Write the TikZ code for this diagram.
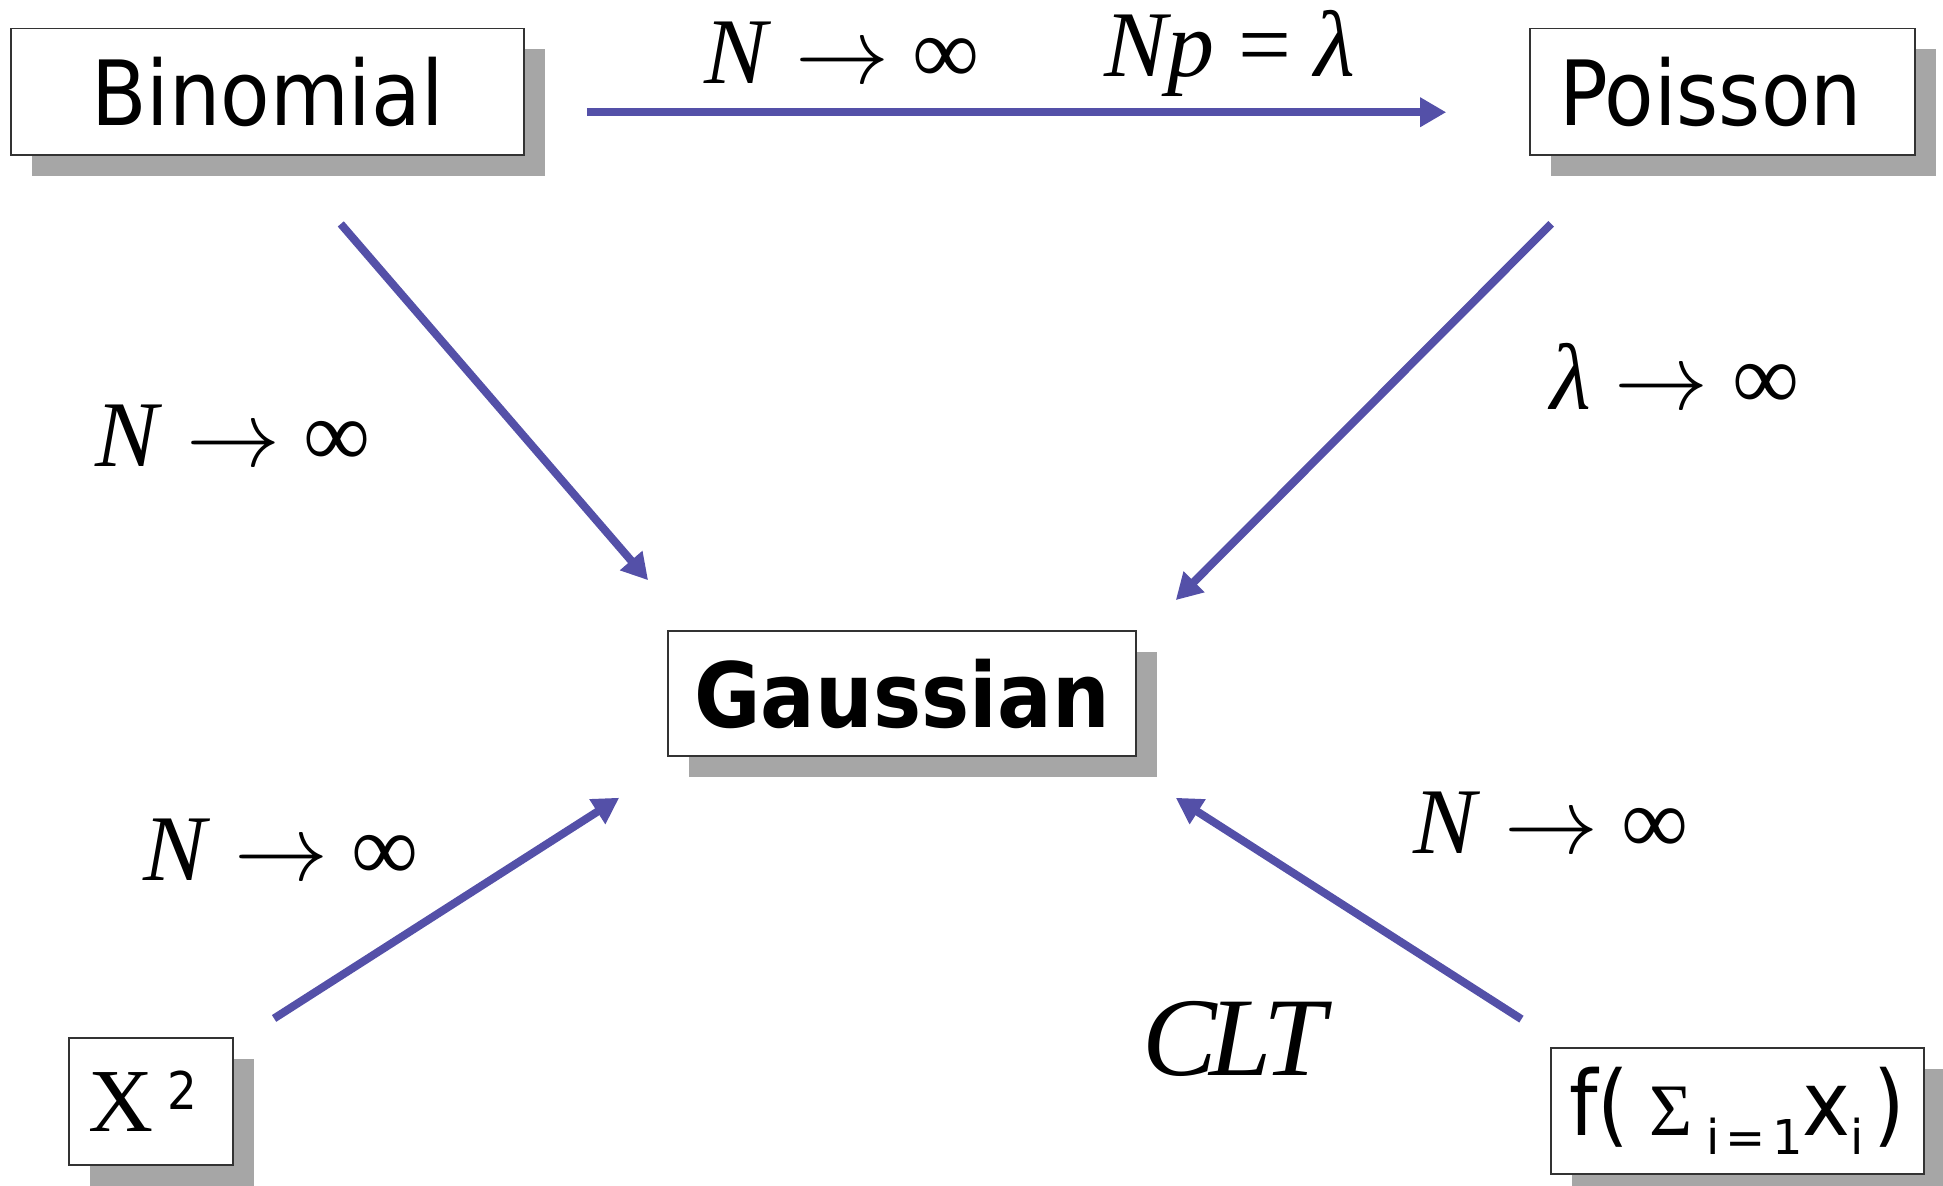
\documentclass[tikz,border=0pt]{standalone}
\usepackage{graphicx}
\usepackage{fontspec}
\setmainfont{DejaVu Sans Condensed}
\newfontfamily\tms{Liberation Serif}
\newfontfamily\dvs{DejaVu Sans}
\usetikzlibrary{arrows.meta,shadows}
\definecolor{arrowblue}{RGB}{84,80,168}
\newcommand{\lowtxt}[1]{\raisebox{-9.5pt}{\dvs\fontsize{24}{26}\selectfont #1}}
\newcommand{\tends}{\scalebox{4.7}{\fontsize{10}{12}\selectfont$\rightarrow$}}

\begin{document}
\begin{tikzpicture}[x=0.5pt,y=-0.5pt,
  distbox/.style={draw=black!80, line width=0.8pt, fill=white, inner sep=0pt,
    drop shadow={shadow xshift=10.5pt, shadow yshift=-10.5pt, fill=black!35, opacity=1},
    font=\fontsize{45}{50}\selectfont},
  flow/.style={draw=arrowblue, line width=4pt, -{Triangle[length=13pt,width=14pt]}},
  limit/.style={font=\tms\fontsize{47}{52}\selectfont, anchor=base, inner sep=0pt, text height=33pt}]
\useasboundingbox (0,0) rectangle (1943,1186);
% distributions
\node[distbox, minimum width=256.5pt, minimum height=63.25pt] (bin) at (267.5,91.75) {Binomial};
\node[distbox, minimum width=192.5pt, minimum height=63.25pt] (poi) at (1722.5,91.75) {Poisson\kern12pt};
\node[distbox, minimum width=234pt, minimum height=62.5pt, font=\bfseries\fontsize{45}{50}\selectfont] (gau) at (902,693.5) {Gaussian};
\node[distbox, minimum width=82pt, minimum height=63.5pt] (chi) at (151,1101.5) {{\tms\fontsize{45}{48}\selectfont X}\hspace{7pt}\raisebox{11pt}{\fontsize{26}{28}\selectfont 2}\kern8pt};
\node[distbox, minimum width=186.5pt, minimum height=63pt] (sum) at (1737.5,1111) {f(\hspace{10pt}{\tms\fontsize{37}{40}\selectfont Σ}\hspace{7pt}\lowtxt{i\kern3pt=\kern3pt1}x\lowtxt{i}\kern5pt)};
% limits
\node[limit] (lim-top) at (842,84) {\textit{N} \tends{} ∞};
\node[limit] (lim-np) at (1230,77) {\textit{Np} = \textit{λ}};
\node[limit] (lim-bin) at (233,467) {\textit{N} \tends{} ∞};
\node[limit] (lim-poi) at (1675,410) {\textit{λ} \tends{} ∞};
\node[limit] (lim-chi) at (281,880) {\textit{N} \tends{} ∞};
\node[limit] (lim-sum) at (1551,853) {\textit{N} \tends{} ∞};
\node[limit, font=\tms\itshape\fontsize{56}{60}\selectfont, text height=39pt] (clt) at (1234,1075) {C\kern-4pt L\kern-4pt T};
% arrows
\draw[flow, shorten <=31pt, shorten >=41.5pt] ([yshift=-10.25pt]bin.east) -- ([yshift=-10.25pt]poi.west);
\draw[flow, shorten <=45pt, shorten >=33pt] ([xshift=7.25pt]bin.south) -- ([xshift=12pt]gau.north west);
\draw[flow, shorten <=48pt, shorten >=27.6pt] ([xshift=-51.75pt]poi.south) -- ([yshift=-4.5pt]gau.north east);
\draw[flow, shorten <=23.9pt, shorten >=38pt] ([yshift=-3.5pt]chi.north east) -- ([xshift=8pt]gau.south west);
\draw[flow, shorten <=26pt, shorten >=38pt] ([xshift=7.5pt]sum.north west) -- ([xshift=-12.5pt]gau.south east);
\end{tikzpicture}
\end{document}
